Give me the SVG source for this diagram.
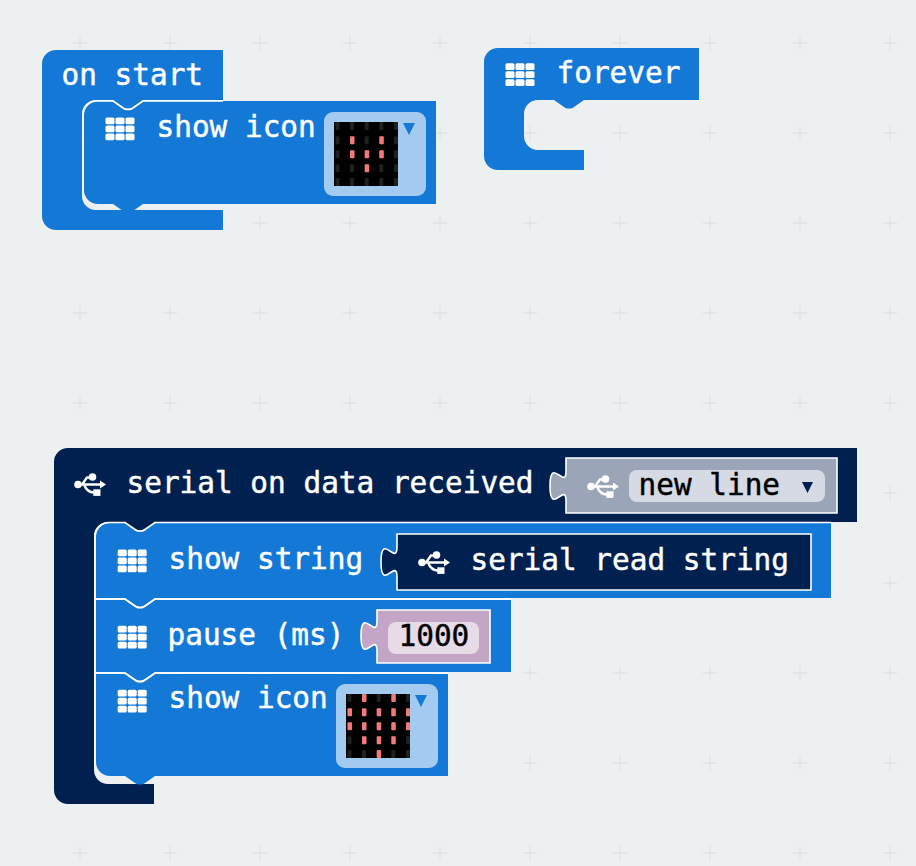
<svg xmlns="http://www.w3.org/2000/svg" xmlns:xlink="http://www.w3.org/1999/xlink" width="916" height="866" viewBox="0 0 916 866">
<style>
.t{font-family:"DejaVu Sans Mono","Liberation Mono",monospace;font-size:29.4px;fill:#fff;stroke:#fff;stroke-width:.45}
.k{fill:#000;stroke:#000}
.blue{fill:#1479d6}
.navy{fill:#00214f}
.hl{fill:none;stroke:#fff;stroke-width:1.7}
.rep{stroke:#fff;stroke-width:1.6}
.on{fill:#f47a7a}
.dim{fill:#202020}
.fld{fill:#a2cbef}
</style>
<defs>
<pattern id="grid" patternUnits="userSpaceOnUse" x="35" y="-2" width="90" height="90">
<path d="M38,45H52M45,38V52" stroke="#dfe3e5" stroke-width="1.3" fill="none"/>
</pattern>
<g id="bas" fill="#fff">
<rect x="0" y="0" width="9" height="6.7" rx="1.5"/><rect x="10" y="0" width="9" height="6.7" rx="1.5"/><rect x="20" y="0" width="9" height="6.7" rx="1.5"/>
<rect x="0" y="8" width="9" height="6.7" rx="1.5"/><rect x="10" y="8" width="9" height="6.7" rx="1.5"/><rect x="20" y="8" width="9" height="6.7" rx="1.5"/>
<rect x="0" y="16" width="9" height="6.7" rx="1.5"/><rect x="10" y="16" width="9" height="6.7" rx="1.5"/><rect x="20" y="16" width="9" height="6.7" rx="1.5"/>
</g>
<g id="usb" fill="#fff">
<path d="M2,11.500H27M8,11.500L13,4.500H17M10,11.500Q13,19.500 20,19.500" fill="none" stroke="#fff" stroke-width="2.300"/>
<circle cx="4" cy="11.500" r="3.800"/><circle cx="18.500" cy="4" r="3.800"/>
<path d="M26,7.500L32,11.500L26,15.500Z"/><rect x="19.300" y="16.300" width="7.200" height="6.600"/>
</g>
<g id="leds" class="dim">
<rect x="1.500" y="0" width="4" height="8" rx="1"/><rect x="16" y="0" width="4" height="8" rx="1"/><rect x="30.700" y="0" width="4" height="8" rx="1"/><rect x="45.300" y="0" width="4" height="8" rx="1"/><rect x="60" y="0" width="4" height="8" rx="1"/>
<rect x="1.500" y="14.300" width="4" height="8" rx="1"/><rect x="16" y="14.300" width="4" height="8" rx="1"/><rect x="30.700" y="14.300" width="4" height="8" rx="1"/><rect x="45.300" y="14.300" width="4" height="8" rx="1"/><rect x="60" y="14.300" width="4" height="8" rx="1"/>
<rect x="1.500" y="28.300" width="4" height="8" rx="1"/><rect x="16" y="28.300" width="4" height="8" rx="1"/><rect x="30.700" y="28.300" width="4" height="8" rx="1"/><rect x="45.300" y="28.300" width="4" height="8" rx="1"/><rect x="60" y="28.300" width="4" height="8" rx="1"/>
<rect x="1.500" y="42.300" width="4" height="8" rx="1"/><rect x="16" y="42.300" width="4" height="8" rx="1"/><rect x="30.700" y="42.300" width="4" height="8" rx="1"/><rect x="45.300" y="42.300" width="4" height="8" rx="1"/><rect x="60" y="42.300" width="4" height="8" rx="1"/>
<rect x="1.500" y="56" width="4" height="8" rx="1"/><rect x="16" y="56" width="4" height="8" rx="1"/><rect x="30.700" y="56" width="4" height="8" rx="1"/><rect x="45.300" y="56" width="4" height="8" rx="1"/><rect x="60" y="56" width="4" height="8" rx="1"/>
</g>
</defs>
<rect width="916" height="866" fill="#ecf0f1"/>
<rect width="916" height="866" fill="url(#grid)"/>

<g id="on-start">
<path class="blue" d="M56,50H223V100H143l-10,7q-2,1.500 -4,1.500h-2q-2,0 -4,-1.500l-10,-7H96a14,14 0 0 0 -14,14V196a14,14 0 0 0 14,14H223V230H56a14,14 0 0 1 -14,-14V64a14,14 0 0 1 14,-14Z"/>
<text class="t" x="61.500" y="85">on start</text>
</g>
<g id="show-icon-1">
<path class="blue" d="M98,101H113l10,7q2,1.500 4,1.500h2q2,0 4,-1.500l10,-7H436V204H143l-10,7q-2,1.500 -4,1.500h-2q-2,0 -4,-1.500l-10,-7H98a14,14 0 0 1 -14,-14V115a14,14 0 0 1 14,-14Z"/>
<path class="hl" d="M83,192V115a14,14 0 0 1 14,-14H113l10,7q2,1.500 4,1.500h2q2,0 4,-1.500l10,-7H223"/>
<use href="#bas" x="105.500" y="117.500"/>
<text class="t" x="156.500" y="137">show icon</text>
<rect class="fld" x="324" y="112" width="102" height="84" rx="9"/>
<rect x="334" y="122" width="64" height="64" fill="#000"/>
<g transform="translate(334,122)">
<use href="#leds"/>
<g class="on"><rect x="16" y="14.300" width="4.500" height="8" rx="1"/><rect x="45.300" y="14.300" width="4.500" height="8" rx="1"/><rect x="16" y="28.300" width="4.500" height="8" rx="1"/><rect x="30.700" y="28.300" width="4.500" height="8" rx="1"/><rect x="45.300" y="28.300" width="4.500" height="8" rx="1"/><rect x="30.700" y="42.300" width="4.500" height="8" rx="1"/></g>
</g>
<path class="blue" d="M403,123H415L409,135Z"/>
</g>

<g id="forever">
<path class="blue" d="M498,48H699V100H584l-10,7q-2,1.500 -4,1.500h-2q-2,0 -4,-1.500l-10,-7H538a14,14 0 0 0 -14,14V136a14,14 0 0 0 14,14H584V170H498a14,14 0 0 1 -14,-14V62a14,14 0 0 1 14,-14Z"/>
<use href="#bas" x="505.500" y="63.300"/>
<text class="t" x="556.500" y="82.500">forever</text>
</g>

<g id="serial-on-data">
<path class="navy" d="M68,448H857V522H155l-10,7q-2,1.500 -4,1.500h-2q-2,0 -4,-1.500l-10,-7H108a14,14 0 0 0 -14,14V770a14,14 0 0 0 14,14H154V804H68a14,14 0 0 1 -14,-14V462a14,14 0 0 1 14,-14Z"/>
<use href="#usb" x="74" y="473"/>
<text class="t" x="126.500" y="493">serial on data received</text>
</g>
<g id="new-line">
<path class="rep" fill="#9aa6b8" d="M566,458H837V513H566V501c0,-20 -16,16 -16,-15s16,5 16,-15Z"/>
<use href="#usb" x="587" y="475"/>
<rect x="629" y="470" width="196" height="32" rx="8" fill="#d5dae5"/>
<text class="t k" x="638.500" y="495">new line</text>
<path class="navy" d="M802,482H813L807.500,493Z"/>
</g>
<g id="show-string">
<path class="blue" d="M96,598V537a14,14 0 0 1 14,-14H125l10,7q2,1.500 4,1.500h2q2,0 4,-1.500l10,-7H831V598H155l-10,7q-2,1.500 -4,1.500h-2q-2,0 -4,-1.500l-10,-7Z"/>
<path class="hl" d="M95,537a14,14 0 0 1 14,-14.500H125l10,7q2,1.500 4,1.500h2q2,0 4,-1.500l10,-7H831"/>
<use href="#bas" x="117.700" y="549.500"/>
<text class="t" x="168.500" y="569">show string</text>
</g>
<g id="serial-read-string">
<path class="rep navy" d="M397,534H811V590H397V577c0,-20 -16,16 -16,-15s16,5 16,-15Z"/>
<use href="#usb" x="418" y="551"/>
<text class="t" x="470.500" y="570">serial read string</text>
</g>
<g id="pause">
<path class="blue" d="M96,600H125l10,7q2,1.500 4,1.500h2q2,0 4,-1.500l10,-7H511V672H155l-10,7q-2,1.500 -4,1.500h-2q-2,0 -4,-1.500l-10,-7H96Z"/>
<path class="hl" d="M96,599H125l10,7q2,1.500 4,1.500h2q2,0 4,-1.500l10,-7H511"/>
<use href="#bas" x="117.700" y="625.700"/>
<text class="t" x="167.500" y="645">pause (ms)</text>
</g>
<g id="num-1000">
<path class="rep" fill="#c3a6c5" d="M377,610H490V663H377V651c0,-20 -16,16 -16,-15s16,5 16,-15Z"/>
<rect x="388" y="622" width="91" height="32" rx="8" fill="#e7dbe8"/>
<text class="t k" x="398.500" y="646">1000</text>
</g>
<g id="show-icon-2">
<path class="blue" d="M96,674H125l10,7q2,1.500 4,1.500h2q2,0 4,-1.500l10,-7H448V776H155l-10,7q-2,1.500 -4,1.500h-2q-2,0 -4,-1.500l-10,-7H110a14,14 0 0 1 -14,-14Z"/>
<path class="hl" d="M96,673H125l10,7q2,1.500 4,1.500h2q2,0 4,-1.500l10,-7H448"/>
<path class="hl" d="M95,537V764"/>
<use href="#bas" x="117.700" y="689.700"/>
<text class="t" x="168.500" y="708">show icon</text>
<rect class="fld" x="336" y="684" width="102" height="84" rx="9"/>
<rect x="346" y="694" width="64" height="64" fill="#000"/>
<g transform="translate(346,694)">
<use href="#leds"/>
<g class="on"><rect x="16" y="0" width="4.500" height="8" rx="1"/><rect x="45.300" y="0" width="4.500" height="8" rx="1"/>
<rect x="1.500" y="14.300" width="4.500" height="8" rx="1"/><rect x="16" y="14.300" width="4.500" height="8" rx="1"/><rect x="30.700" y="14.300" width="4.500" height="8" rx="1"/><rect x="45.300" y="14.300" width="4.500" height="8" rx="1"/><rect x="60" y="14.300" width="4" height="8" rx="1"/>
<rect x="1.500" y="28.300" width="4.500" height="8" rx="1"/><rect x="16" y="28.300" width="4.500" height="8" rx="1"/><rect x="30.700" y="28.300" width="4.500" height="8" rx="1"/><rect x="45.300" y="28.300" width="4.500" height="8" rx="1"/><rect x="60" y="28.300" width="4" height="8" rx="1"/>
<rect x="16" y="42.300" width="4.500" height="8" rx="1"/><rect x="30.700" y="42.300" width="4.500" height="8" rx="1"/><rect x="45.300" y="42.300" width="4.500" height="8" rx="1"/>
<rect x="30.700" y="56" width="4.500" height="8" rx="1"/></g>
</g>
<path class="blue" d="M415,695H427L421,707Z"/>
</g>
<g id="connectors"/>
</svg>
